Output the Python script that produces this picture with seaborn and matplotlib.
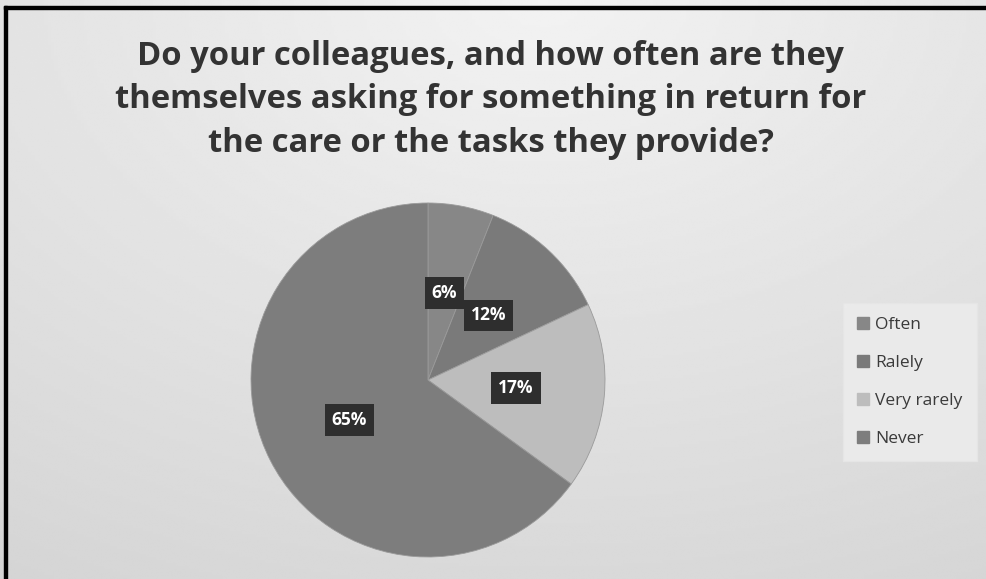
import numpy as np
import matplotlib
matplotlib.use("Agg")
import matplotlib.pyplot as plt
import seaborn as sns
from matplotlib.patches import Rectangle

# Survey answers and their shares (%)
categories = ["Often", "Ralely", "Very rarely", "Never"]
shares = [6, 12, 17, 65]
title = ("Do your colleagues, and how often are they\n"
         "themselves asking for something in return for\n"
         "the care or the tasks they provide?")

sns.set_theme(style="white")
plt.rcParams["font.family"] = ["Open Sans", "DejaVu Sans"]

colors = ["#878787", "#7a7a7a", "#bdbdbd", "#7d7d7d"]

fig = plt.figure(figsize=(9.87, 5.79), dpi=100)

# soft grey gradient background
bg = fig.add_axes([0, 0, 1, 1], zorder=0)
yy, xx = np.mgrid[0:1:200j, 0:1:300j]
d = np.sqrt(((xx - 0.55) * 1.1) ** 2 + ((yy - 0.0) * 1.0) ** 2)
shade = 0.95 - 0.12 * np.clip(d, 0, 1.2) / 1.2
bg.imshow(shade, cmap="gray", vmin=0, vmax=1, extent=[0, 1, 0, 1],
          aspect="auto", origin="upper", interpolation="bilinear")
bg.set_xlim(0, 1)
bg.set_ylim(0, 1)
bg.axis("off")
# black frame on left and top edges
bg.add_patch(Rectangle((0.004, 0), 0.0035, 0.99, color="black",
                       transform=bg.transAxes, clip_on=False))
bg.add_patch(Rectangle((0.004, 0.9845), 0.996, 0.0045, color="black",
                       transform=bg.transAxes, clip_on=False))

fig.text(0.497, 0.828, title, ha="center", va="center", fontsize=23.6,
         fontweight="bold", color="#333333", linespacing=1.42)

# pie axes: centre (428, 380) px, radius 177 px
R = 177
cx, cy = 428, 380
W, H = 987, 579
ax = fig.add_axes([(cx - R) / W, 1 - (cy + R) / H, 2 * R / W, 2 * R / H], zorder=1)
wedges, texts, autotexts = ax.pie(
    shares, colors=colors, startangle=90, counterclock=False,
    autopct="%.0f%%", pctdistance=0.5,
    wedgeprops=dict(linewidth=0.6, edgecolor="#9a9a9a"),
    textprops=dict(color="white", fontsize=12.5, fontweight="bold"))
for t in autotexts:
    t.set_bbox(dict(boxstyle="square,pad=0.4", facecolor="#2e2e2e",
                    edgecolor="none"))
ax.set_xlim(-1, 1)
ax.set_ylim(-1, 1)
ax.set_aspect("equal")

handles = [Rectangle((0, 0), 1, 1, color=c) for c in colors]
leg = fig.legend(handles, categories, loc="center left",
                 bbox_to_anchor=(0.8455, 0.34), frameon=True, fontsize=12.5,
                 handlelength=0.7, handleheight=0.7, handletextpad=0.35,
                 labelspacing=1.25, borderpad=0.8)
leg.get_frame().set_facecolor("#ececec")
leg.get_frame().set_edgecolor("#e6e6e6")
leg.get_frame().set_alpha(0.9)
leg.get_frame().set_boxstyle("square", pad=0)
for t in leg.get_texts():
    t.set_color("#3a3a3a")

fig.savefig("out.png", dpi=100)
